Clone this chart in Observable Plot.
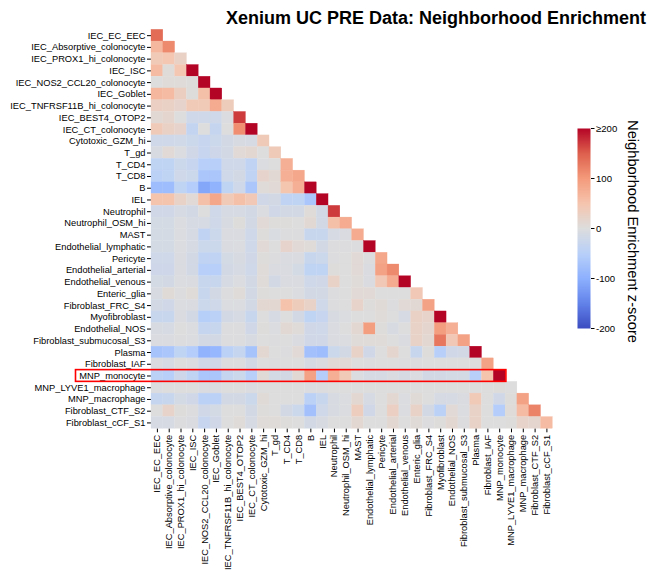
<!DOCTYPE html>
<html>
<head>
<meta charset="utf-8">
<script src="https://cdn.jsdelivr.net/npm/d3@7"></script>
<script src="https://cdn.jsdelivr.net/npm/@observablehq/plot@0.6"></script>
<style>
  html, body { margin: 0; padding: 0; background: #fff; }
  #wrap { position: relative; width: 656px; height: 578px; font-family: "Liberation Sans", Arial, sans-serif; color: #000; }
  #wrap svg { position: absolute; overflow: visible; }
  #title { position: absolute; left: 226px; top: 9px; font-size: 18px; line-height: 18px; font-weight: bold; white-space: nowrap; }
</style>
</head>
<body>
<div id="wrap"><div id="title">Xenium UC PRE Data: Neighborhood Enrichment</div></div>
<script>
const categories = [
  "IEC_EC_EEC", "IEC_Absorptive_colonocyte", "IEC_PROX1_hi_colonocyte", "IEC_ISC",
  "IEC_NOS2_CCL20_colonocyte", "IEC_Goblet", "IEC_TNFRSF11B_hi_colonocyte", "IEC_BEST4_OTOP2",
  "IEC_CT_colonocyte", "Cytotoxic_GZM_hi", "T_gd", "T_CD4", "T_CD8", "B", "IEL", "Neutrophil",
  "Neutrophil_OSM_hi", "MAST", "Endothelial_lymphatic", "Pericyte", "Endothelial_arterial",
  "Endothelial_venous", "Enteric_glia", "Fibroblast_FRC_S4", "Myofibroblast", "Endothelial_NOS",
  "Fibroblast_submucosal_S3", "Plasma", "Fibroblast_IAF", "MNP_monocyte", "MNP_LYVE1_macrophage",
  "MNP_macrophage", "Fibroblast_CTF_S2", "Fibroblast_cCF_S1"
];

// lower-triangular z-scores, one list per row (row i has i+1 values)
const enrichment = [
  [140],
  [65, 115],
  [40, 45, 25],
  [60, 5, 45, 250],
  [0, 5, 5, 3, 250],
  [65, 60, 30, 3, 55, 250],
  [28, 25, 18, 40, 40, 80, 35],
  [10, 15, 0, -20, -20, -20, -3, 170],
  [38, 25, 18, -35, 0, -32, 0, 110, 250],
  [-20, -20, -17, -25, -30, -25, -15, -8, -10, 38],
  [-8, 8, -3, -18, -30, -22, -15, 8, 12, 0, 38],
  [-40, -40, -25, -30, -50, -50, -20, -20, -38, -3, 0, 75],
  [-45, -40, -20, -25, -65, -65, -20, -15, -38, 18, 10, 75, 85],
  [-80, -80, -40, -55, -110, -95, -40, -20, -65, 5, 8, 48, 75, 250],
  [50, 50, 22, 8, 55, 85, 40, 55, 42, -18, -15, -38, -40, -65, 250],
  [-18, -18, -10, -15, 0, -20, -10, -10, -15, -3, -18, -15, -15, 5, -15, 170],
  [-12, -12, -3, -10, -10, -20, -8, 3, -15, 8, 2, 2, 0, 10, -15, 55, 80],
  [-12, -12, -3, -10, -38, -25, -6, -6, -20, 3, -5, -2, -2, -28, -28, -10, -6, 80],
  [-12, -12, -3, -10, -25, -25, -6, -3, -20, 8, 0, 18, 8, 4, -15, -2, -2, -2, 250],
  [-20, -20, -6, -15, -38, -38, -12, -8, -18, 2, -2, -6, -6, -28, -25, -2, 0, 8, -2, 85],
  [-22, -22, -6, -15, -50, -50, -15, -10, -20, 4, -6, -6, -12, -40, -40, 3, 0, 8, -6, 90, 115],
  [-12, -15, -3, -6, -28, -28, -10, -3, -15, 4, -15, -6, -6, -20, -18, 22, 0, 5, -6, 42, 80, 250],
  [-8, 6, -2, 5, -28, -15, -2, 5, -15, 2, 0, 0, -3, -15, -15, -2, 0, 8, 8, 0, 0, 0, 42],
  [-15, -18, -3, -6, -25, -20, -3, -3, -15, 12, 12, 52, 35, 22, -20, -2, 0, 20, 2, 6, -2, 8, 10, 90],
  [-28, -28, -6, -15, -52, -45, -15, -10, -28, 0, -10, 0, -15, -40, -30, -8, -3, 0, 0, 5, 0, -10, 25, 20, 250],
  [-8, -10, 0, -3, -32, -28, -2, -2, -18, 2, -3, 10, 5, -18, -20, -6, 0, 12, 95, 2, -8, 0, 22, 15, 95, 75],
  [-6, -6, -2, -3, -15, -15, -2, -2, -8, 0, -2, 0, -6, -18, -18, -6, -3, 5, 5, 5, 0, -6, 22, 12, 130, 42, 90],
  [-70, -65, -40, -55, -95, -90, -45, -32, -70, 12, 0, -2, 8, -75, -80, -25, -15, 22, -18, 0, 15, 0, -28, 2, -50, -18, -15, 250],
  [-6, -10, 0, -3, -18, -18, -2, -2, -15, 0, -2, 0, 0, -10, -6, 8, 8, 0, -2, 0, 0, -2, -2, 0, 0, 0, 0, 0, 90],
  [-45, -50, -22, -38, -65, -65, -32, -25, -50, 6, -12, -15, 10, 90, -55, 75, 40, -3, -10, -10, -6, -10, -3, -15, -15, -12, -12, -50, 50, 250],
  [-3, 0, 0, 0, -6, -6, 0, 0, -3, 0, 0, 0, 0, -3, -2, 0, 0, 0, 0, 0, 0, 0, 0, 0, 0, 0, 0, 0, 0, 2, 0],
  [-32, -28, -12, -18, -45, -45, -15, -15, -25, 6, 0, 0, 0, -45, -28, -8, -3, 12, -10, 0, 12, -3, 6, 0, -10, -10, -6, 40, 0, -18, 2, 90],
  [0, 20, 2, -2, -18, -12, 0, 0, -15, 2, 0, -15, -25, -75, -20, -8, -3, 32, -18, 0, 28, -3, 22, -15, -45, 8, -3, 22, 0, -55, 5, 60, 120],
  [-10, -10, -2, -6, -30, -18, 0, 5, -10, 5, 5, 2, 0, -15, -8, 0, 0, 12, 0, 0, 12, 0, 6, -2, 2, 12, -2, 22, 0, 0, 2, 20, 15, 60]
];

const highlightRows = ["MNP_monocyte"];

const colorStops = [-200, -150, -100, -50, 0, 50, 100, 150, 200];
const colorRange = ["#3b4cc0", "#6282ea", "#8db0fe", "#b8d0f9", "#dddddd", "#f5c4ad", "#f49a7b", "#de604d", "#b40426"];
const colorbarTicks = [-200, -100, 0, 100, 200];
const colorbarTickLabels = ["-200", "-100", "0", "100", "\u2265200"];
const colorbarLabel = "Neighborhood Enrichment z-score";

const FONT = "'Liberation Sans', Arial, sans-serif";
const colorScale = {type: "linear", domain: colorStops, range: colorRange, clamp: true, interpolate: "rgb"};

const cells = [];
enrichment.forEach((vals, i) => vals.forEach((v, j) => cells.push({row: categories[i], col: categories[j], value: v})));

const highlight = Plot.rect(highlightRows.map(r => ({row: r})), {
  render(index, scales, values, dims) {
    const x = scales.x, y = scales.y;
    const bw = x(categories[1]) - x(categories[0]);
    const bh = y(categories[1]) - y(categories[0]);
    const offX = x(categories[0]) - dims.marginLeft;
    const offY = y(categories[0]) - dims.marginTop;
    const g = d3.create("svg:g");
    for (const i of index) {
      const r = highlightRows[i];
      const ri = categories.indexOf(r);
      const top = y(r) - offY;
      const right = x(categories[ri]) - offX + bw + 0.8;
      const left = dims.marginLeft - 75.5;
      g.append("rect")
        .attr("x", left).attr("y", top)
        .attr("width", right - left).attr("height", bh)
        .attr("fill", "none").attr("stroke", "#ff0000").attr("stroke-width", 1.6);
    }
    return g.node();
  }
});

const main = Plot.plot({
  width: 656, height: 578,
  marginLeft: 151, marginRight: 103.7, marginTop: 29.3, marginBottom: 149.7,
  x: {domain: categories, padding: 0, round: false, tickRotate: -90, tickSize: 4, tickPadding: 2, label: null},
  y: {domain: categories, padding: 0, round: false, tickSize: 4, tickPadding: 2, label: null},
  color: colorScale,
  style: {fontFamily: FONT, fontSize: "9.3px", background: "transparent", color: "#000"},
  marks: [
    Plot.cell(cells, {x: "col", y: "row", fill: "value", stroke: "value", strokeWidth: 0.3}),
    highlight
  ]
});
main.style.left = "0px"; main.style.top = "0px";
document.getElementById("wrap").appendChild(main);

const bar = Plot.plot({
  width: 96, height: 240,
  marginLeft: 17, marginRight: 66, marginTop: 18, marginBottom: 22,
  x: {axis: null, domain: [0, 1]},
  y: {domain: [-200, 200], axis: "right", ticks: colorbarTicks, tickSize: 3.5, tickPadding: 2, label: null,
      tickFormat: d => colorbarTickLabels[colorbarTicks.indexOf(d)]},
  color: colorScale,
  style: {fontFamily: FONT, fontSize: "9.6px", background: "transparent", color: "#000"},
  marks: [
    Plot.raster({x1: 0, x2: 1, y1: -200, y2: 200, width: 1, height: 200, fill: (px, py) => py, imageRendering: "auto"})
  ]
});
bar.style.left = "560px"; bar.style.top = "110px";
d3.select(bar).append("text")
  .attr("transform", "translate(67.5,121.5) rotate(90)")
  .attr("text-anchor", "middle")
  .attr("font-family", FONT)
  .attr("font-size", "14.7px")
  .attr("fill", "#000")
  .text(colorbarLabel);
document.getElementById("wrap").appendChild(bar);
</script>
</body>
</html>
